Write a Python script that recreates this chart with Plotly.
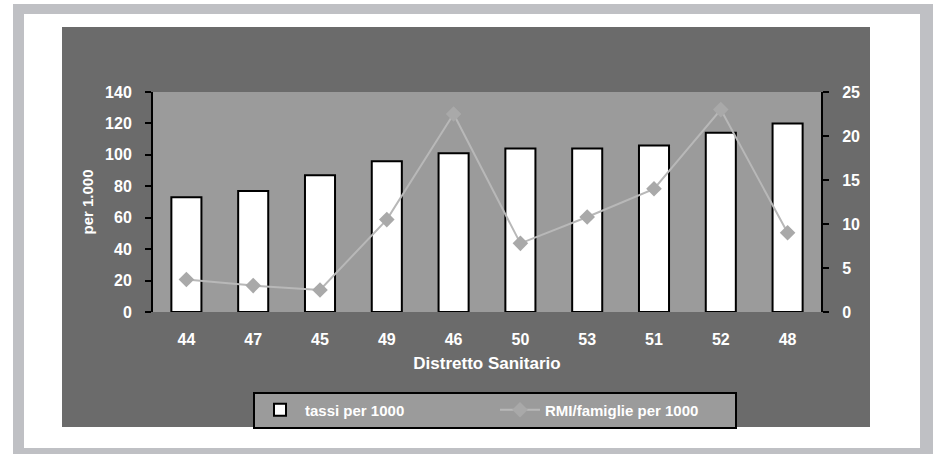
import plotly.graph_objects as go

districts = ["44", "47", "45", "49", "46", "50", "53", "51", "52", "48"]
tassi = [73, 77, 87, 96, 101, 104, 104, 106, 114, 120]
rmi = [3.7, 3.0, 2.5, 10.5, 22.5, 7.8, 10.8, 14.0, 23.0, 9.0]

W, H = 933, 454
L, R, T, B = 153, 821, 92, 312  # plot area in pixels

def px_x(p):
    return (p - L) / (R - L)

def px_y(p):
    return (B - p) / (B - T)

WHITE_FONT = dict(family="Liberation Sans, Arial, sans-serif", color="white", size=16, weight="bold")

fig = go.Figure()
fig.add_trace(go.Bar(
    x=districts, y=tassi, name="tassi per 1000",
    marker=dict(color="white", line=dict(color="black", width=2)),
    width=0.45, yaxis="y",
))
fig.add_trace(go.Scatter(
    x=districts, y=rmi, name="RMI/famiglie per 1000", yaxis="y2",
    mode="lines+markers",
    line=dict(color="#b8b8b8", width=2),
    marker=dict(symbol="diamond", size=12, color="#a9a9a9"),
))

shapes = [
    # outer light-gray frame
    dict(type="rect", xref="paper", yref="paper", layer="below",
         x0=px_x(13), x1=px_x(933), y0=px_y(454), y1=px_y(4),
         fillcolor="#bfc0c4", line=dict(width=0)),
    dict(type="rect", xref="paper", yref="paper", layer="below",
         x0=px_x(24), x1=px_x(920), y0=px_y(448), y1=px_y(14),
         fillcolor="white", line=dict(width=0)),
    # dark chart area
    dict(type="rect", xref="paper", yref="paper", layer="below",
         x0=px_x(62), x1=px_x(870), y0=px_y(427), y1=px_y(27),
         fillcolor="#6b6b6b", line=dict(width=0)),
    # plot area
    dict(type="rect", xref="paper", yref="paper", layer="below",
         x0=0, x1=1, y0=0, y1=1,
         fillcolor="#9b9b9b", line=dict(width=0)),
]

fig.update_layout(
    width=W, height=H,
    margin=dict(l=L, r=W - R, t=T, b=H - B, autoexpand=False),
    paper_bgcolor="white",
    plot_bgcolor="rgba(0,0,0,0)",
    shapes=shapes,
    font=WHITE_FONT,
    showlegend=True,
    xaxis=dict(
        type="category", range=[-0.5, len(districts) - 0.5],
        showgrid=False, zeroline=False, showline=False,
        ticks="", tickfont=dict(size=16), ticklabelstandoff=16,
        title=dict(text="Distretto Sanitario", font=dict(size=17), standoff=10),
        automargin=False,
    ),
    yaxis=dict(
        range=[0, 140], tickvals=[0, 20, 40, 60, 80, 100, 120, 140],
        showgrid=False, zeroline=False, showline=True, linecolor="black", linewidth=2,
        ticks="outside", ticklen=6, tickwidth=2, tickcolor="black",
        tickfont=dict(size=16), ticklabelstandoff=10,
        title=dict(text="per 1.000", font=dict(size=15), standoff=8),
        automargin=False,
    ),
    yaxis2=dict(
        range=[0, 25], tickvals=[0, 5, 10, 15, 20, 25],
        overlaying="y", side="right", anchor="x",
        showgrid=False, zeroline=False, showline=True, linecolor="black", linewidth=2,
        ticks="outside", ticklen=6, tickwidth=2, tickcolor="black",
        tickfont=dict(size=16), ticklabelstandoff=10,
        automargin=False,
    ),
    legend=dict(
        orientation="h", x=px_x(495), xanchor="center", y=px_y(410), yanchor="middle",
        bgcolor="#9b9b9b", bordercolor="black", borderwidth=2,
        font=dict(size=15), entrywidth=185, entrywidthmode="pixels",
        traceorder="normal", itemwidth=40,
    ),
    bargap=0.55,
)

fig.write_html("out.html", config={"displayModeBar": False},
               post_script="document.body.style.margin='0';")
